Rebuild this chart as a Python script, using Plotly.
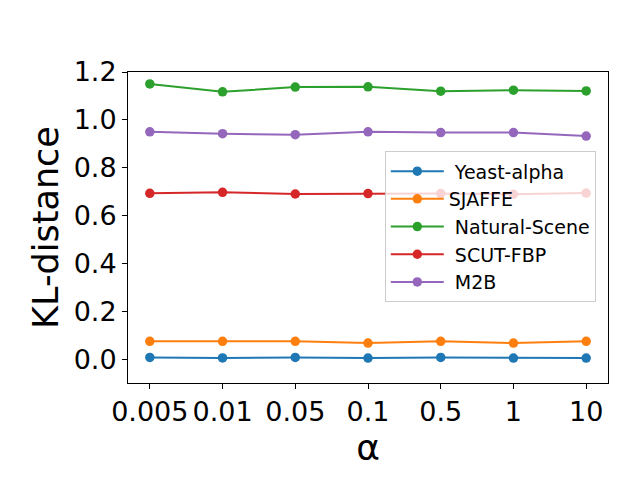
import plotly.graph_objects as go

# alpha values on the x axis (categorical)
alpha_labels = ["0.005", "0.01", "0.05", "0.1", "0.5", "1", "10"]

yeast_alpha = [0.007, 0.005, 0.007, 0.004, 0.007, 0.004, 0.004]
sjaffe = [0.074, 0.074, 0.074, 0.067, 0.074, 0.067, 0.074]
natural_scene = [1.150, 1.117, 1.137, 1.138, 1.120, 1.124, 1.121]
scut_fbp = [0.693, 0.697, 0.690, 0.692, 0.692, 0.689, 0.694]
m2b = [0.950, 0.942, 0.938, 0.950, 0.947, 0.947, 0.932]

series = [
    ("\u00a0Yeast-alpha", yeast_alpha, "#1f77b4"),
    ("SJAFFE", sjaffe, "#ff7f0e"),
    ("\u00a0Natural-Scene", natural_scene, "#2ca02c"),
    ("\u00a0SCUT-FBP", scut_fbp, "#d62728"),
    ("\u00a0M2B", m2b, "#9467bd"),
]

x_pos = list(range(len(alpha_labels)))

fig = go.Figure()
for name, vals, color in series:
    fig.add_trace(
        go.Scatter(
            x=x_pos,
            y=vals,
            name=name,
            mode="lines+markers",
            line=dict(color=color, width=2),
            marker=dict(color=color, size=9.5),
        )
    )

# page body adds an 8px offset, so margins are shifted to compensate
fig.update_layout(
    width=640,
    height=480,
    margin=dict(l=120, r=40, t=64, b=105),
    paper_bgcolor="white",
    plot_bgcolor="white",
    font=dict(family="DejaVu Sans", color="black"),
    legend=dict(
        x=0.535,
        y=0.745,
        xanchor="left",
        yanchor="top",
        bgcolor="rgba(255,255,255,0.8)",
        bordercolor="#cccccc",
        borderwidth=1,
        itemwidth=53,
        font=dict(size=19, family="DejaVu Sans"),
    ),
    showlegend=True,
)

fig.update_xaxes(
    range=[-0.3, 6.3],
    tickmode="array",
    tickvals=x_pos,
    ticktext=alpha_labels,
    ticks="outside",
    ticklen=5,
    tickcolor="black",
    tickfont=dict(size=27),
    showline=True,
    linecolor="black",
    linewidth=1,
    mirror=True,
    showgrid=False,
    zeroline=False,
    title=dict(text="α", font=dict(size=36), standoff=0),
)

fig.update_yaxes(
    range=[-0.1, 1.2],
    tickmode="array",
    tickvals=[0.0, 0.2, 0.4, 0.6, 0.8, 1.0, 1.2],
    ticktext=["0.0", "0.2", "0.4", "0.6", "0.8", "1.0", "1.2"],
    ticks="outside",
    ticklen=5,
    tickcolor="black",
    tickfont=dict(size=27),
    showline=True,
    linecolor="black",
    linewidth=1,
    mirror=True,
    showgrid=False,
    zeroline=False,
    title=dict(text="KL-distance", font=dict(size=35), standoff=4),
)

fig.write_html("out.html")
